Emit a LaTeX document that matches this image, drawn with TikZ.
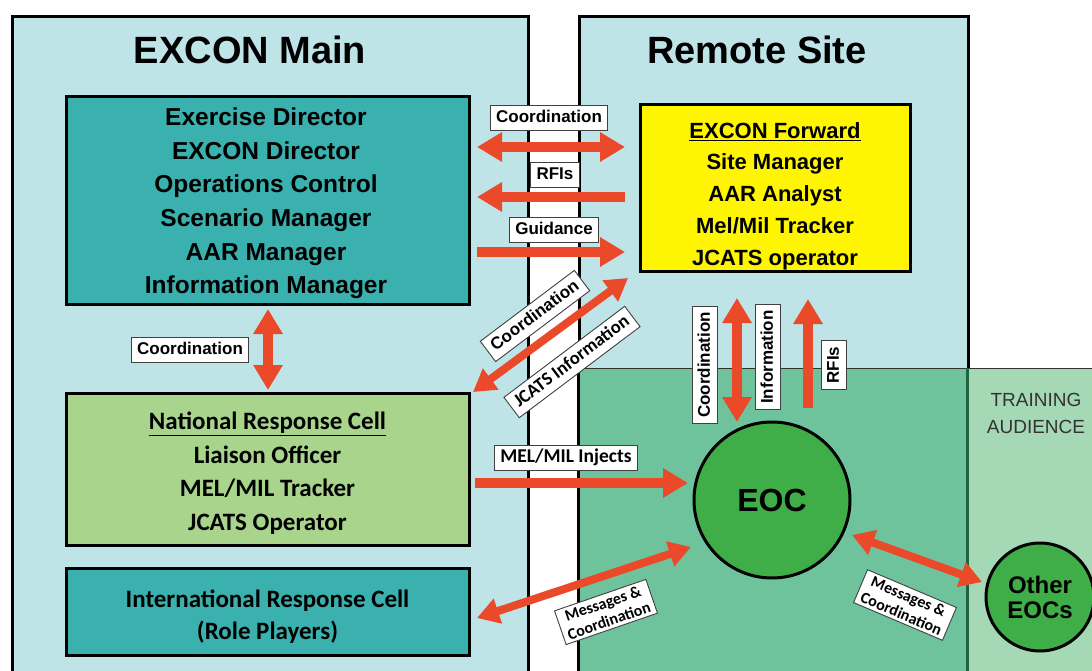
\documentclass[tikz,border=0pt]{standalone}
\usepackage{fontspec}
\setmainfont{Liberation Sans}
\newfontfamily\calfont{Carlito}
\usetikzlibrary{arrows.meta}
\definecolor{bgblue}{RGB}{190,228,232}
\definecolor{tealbox}{RGB}{58,177,174}
\definecolor{nrcgreen}{RGB}{168,212,140}
\definecolor{fwdyellow}{RGB}{255,245,0}
\definecolor{bandA}{RGB}{110,194,156}
\definecolor{bandB}{RGB}{165,216,181}
\definecolor{eocgreen}{RGB}{64,174,72}
\definecolor{arrred}{RGB}{234,74,42}
\definecolor{linegreen}{RGB}{30,100,60}
\newcommand\fsz[2]{\fontsize{#1}{#2}\selectfont}
\begin{document}
\begin{tikzpicture}[x=1pt,y=-1pt,
  panel/.style={draw=black,line width=3pt,fill=bgblue,inner sep=0pt,anchor=north west},
  cell/.style={draw=black,line width=3pt,inner sep=0pt},
  celltext/.style={align=center,inner sep=0pt},
  lab/.style={draw=black!75,line width=0.9pt,fill=white,inner xsep=6pt,inner ysep=4.5pt,
    font=\bfseries\fsz{17}{20},text height=13pt,text depth=3.5pt},
  clab/.style={lab,font=\calfont\bfseries\fsz{18.5}{20}},
  mlab/.style={draw=black!75,line width=0.9pt,fill=white,inner xsep=5pt,inner ysep=3pt,
    align=center,font=\calfont\bfseries\fsz{16}{18.5}},
  arone/.style={draw=arrred,line width=10pt,-{Triangle[width=28pt,length=25pt]}},
  artwo/.style={draw=arrred,line width=10pt,{Triangle[width=28pt,length=25pt]}-{Triangle[width=28pt,length=25pt]}},
  artwothin/.style={draw=arrred,line width=8pt,{Triangle[width=25pt,length=22pt]}-{Triangle[width=25pt,length=22pt]}},
  eocstyle/.style={circle,draw=black,line width=3pt,fill=eocgreen,inner sep=0pt,align=center}
]
\useasboundingbox (0,0) rectangle (1092,671);
\clip (0,0) rectangle (1092,671);
\fill[white] (0,0) rectangle (1092,671);

% panels
\node[panel,minimum width=516pt,minimum height=700pt] (main) at (11,15) {};
\node[panel,minimum width=389pt,minimum height=700pt] (remote) at (578,15) {};
\node[font=\bfseries\fsz{38}{40}] (maintitle) at (250,50) {EXCON Main};
\node[font=\bfseries\fsz{38}{40}] (remotetitle) at (757,50) {Remote Site};

% training audience band
\fill[bandA] (578,368) rectangle (967,700);
\fill[bandB] (967,368) rectangle (1092,700);
\draw[black!80,line width=1pt] (578,368) -- (1092,368);
\draw[black,line width=3pt] (578,366) -- (578,700);
\draw[linegreen,line width=3pt] (967,368) -- (967,700);
\node[align=center,text=black!80,font=\fsz{19}{27}] (ta) at (1036,413.5) {TRAINING\\AUDIENCE};

% cells
\node[cell,fill=tealbox,minimum width=403pt,minimum height=207pt] (exdir) at (267.5,200.5) {};
\node[celltext,font=\bfseries\fsz{24.5}{33.6}] (exdirtext) at (266,203.5)
  {Exercise Director\\EXCON Director\\Operations Control\\Scenario Manager\\AAR Manager\\Information Manager};
\node[cell,fill=fwdyellow,minimum width=270pt,minimum height=166pt] (fwd) at (775,188) {};
\node[celltext,font=\bfseries\fsz{22}{31.75}] (fwdtext) at (775,196)
  {\underline{EXCON Forward}\\Site Manager\\AAR Analyst\\Mel/Mil Tracker\\JCATS operator};
\node[cell,fill=nrcgreen,minimum width=403pt,minimum height=152pt] (nrc) at (267.5,469) {};
\node[celltext,font=\calfont\bfseries\fsz{25}{33.6}] (nrctext) at (267.5,473)
  {\underline{National Response Cell}\\Liaison Officer\\MEL/MIL Tracker\\JCATS Operator};
\node[cell,fill=tealbox,minimum width=403pt,minimum height=87pt] (irc) at (267.5,611.5) {};
\node[celltext,font=\calfont\bfseries\fsz{25}{32}] (irctext) at (267.5,617)
  {International Response Cell\\(Role Players)};

% circles
\node[eocstyle,minimum size=156pt,font=\bfseries\fsz{32}{34}] (eoc) at (772,500) {EOC};
\node[eocstyle,minimum size=108pt,font=\bfseries\fsz{24}{25}] (oeoc) at (1040,597) {Other\\EOCs};

% arrow end points
\coordinate (a1s) at (477,147); \coordinate (a1e) at (625,147);
\coordinate (a2s) at (625,197); \coordinate (a2e) at (477,197);
\coordinate (a3s) at (477,252); \coordinate (a3e) at (625,252);
\coordinate (a4s) at (473,392); \coordinate (a4e) at (628,278);
\coordinate (a5s) at (737,298); \coordinate (a5e) at (737,422);
\coordinate (a6s) at (808,408); \coordinate (a6e) at (808,299);
\coordinate (a7s) at (475,483); \coordinate (a7e) at (688,483);
\coordinate (a8s) at (477,618); \coordinate (a8e) at (691,547);
\coordinate (a9s) at (852,535); \coordinate (a9e) at (982,582);
\coordinate (a10s) at (268,309); \coordinate (a10e) at (268,390);

\draw[artwo] (a1s) -- (a1e);
\draw[arone] (a2s) -- (a2e);
\draw[arone] (a3s) -- (a3e);
\draw[artwothin] (a4s) -- (a4e);
\draw[artwo] (a5s) -- (a5e);
\draw[arone] (a6s) -- (a6e);
\draw[arone] (a7s) -- (a7e);
\draw[artwothin] (a8s) -- (a8e);
\draw[artwothin] (a9s) -- (a9e);
\draw[artwo] (a10s) -- (a10e);

% labels
\node[lab] (l1) at (549,118) {Coordination};
\node[lab] (l2) at (555,175) {RFIs};
\node[lab] (l3) at (554,230) {Guidance};
\node[lab] (l10) at (190,350) {Coordination};
\node[lab,rotate=37] (l4a) at (535,316) {Coordination};
\node[clab,rotate=37] (l4b) at (572,362) {JCATS Information};
\node[lab,rotate=90] (l5a) at (705,365) {Coordination};
\node[lab,rotate=90] (l5b) at (768,357) {Information};
\node[lab,rotate=90] (l6) at (834,365) {RFIs};
\node[clab,font=\calfont\bfseries\fsz{19.5}{20}] (l7) at (566,458) {MEL/MIL Injects};
\node[mlab,rotate=19] (l8) at (606,612) {Messages \&\\Coordination};
\node[mlab,rotate=-23] (l9) at (905,605) {Messages \&\\Coordination};
\end{tikzpicture}
\end{document}
